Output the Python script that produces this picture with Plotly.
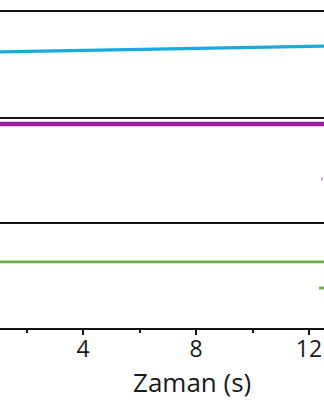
import plotly.graph_objects as go

# Data (y in arbitrary panel units 0-10)
t_cyan = [1.0, 4.0, 8.0, 12.6]
v_cyan = [6.2, 6.35, 6.55, 6.76]

t_purple = [1.0, 4.0, 8.0, 12.6]
v_purple = [9.33, 9.33, 9.33, 9.33]
t_purple_drop = [12.44, 12.47]
v_purple_drop = [4.1, 4.1]

t_green = [1.0, 4.0, 8.0, 12.6]
v_green = [6.23, 6.23, 6.23, 6.23]
t_green_drop = [12.35, 12.6]
v_green_drop = [3.77, 3.77]

x_ticks = [4, 8, 12]
x_minor = [2, 6, 10]
x_label = "Zaman (s)"

CYAN = "#1BA9DF"
PURPLE = "#9E1FA3"
GREEN = "#72AE48"
FONT = "Open Sans"

fig = go.Figure()
fig.add_trace(go.Scatter(x=t_cyan, y=v_cyan, mode="lines", line=dict(color=CYAN, width=3.2),
                         xaxis="x", yaxis="y", showlegend=False))
fig.add_trace(go.Scatter(x=t_purple, y=v_purple, mode="lines", line=dict(color=PURPLE, width=4.5),
                         xaxis="x2", yaxis="y2", showlegend=False))
fig.add_trace(go.Scatter(x=t_purple_drop, y=v_purple_drop, mode="lines", line=dict(color=PURPLE, width=3),
                         xaxis="x2", yaxis="y2", showlegend=False))
fig.add_trace(go.Scatter(x=t_green, y=v_green, mode="lines", line=dict(color=GREEN, width=2.8),
                         xaxis="x3", yaxis="y3", showlegend=False))
fig.add_trace(go.Scatter(x=t_green_drop, y=v_green_drop, mode="lines", line=dict(color=GREEN, width=2.8),
                         xaxis="x3", yaxis="y3", showlegend=False))

xr = [1.062, 12.531]
box_x = dict(range=xr, showline=True, linecolor="#111", linewidth=2,
             showgrid=False, zeroline=False, showticklabels=False, ticks="")
box_y = dict(range=[0, 10], showline=False, showgrid=False, zeroline=False,
             showticklabels=False, ticks="")

fig.update_layout(
    width=324, height=400,
    margin=dict(l=0, r=0, t=12, b=72),
    paper_bgcolor="white", plot_bgcolor="white",
    font=dict(family=FONT, color="#1a1a1a"),
    xaxis=dict(box_x, anchor="y", mirror=True),
    xaxis2=dict(box_x, anchor="y2", matches="x"),
    xaxis3=dict(box_x, anchor="y3", matches="x", showticklabels=True,
                tickmode="array", tickvals=x_ticks, ticktext=[str(v) for v in x_ticks],
                ticks="outside", ticklen=5, tickwidth=1.5, tickcolor="#111",
                ticklabelstandoff=-6,
                tickfont=dict(size=23, family=FONT, color="#1a1a1a"),
                minor=dict(tickvals=x_minor, ticks="outside", ticklen=3, tickwidth=1.5,
                           tickcolor="#111")),
    yaxis=dict(box_y, domain=[0.6677, 1.0], anchor="x"),
    yaxis2=dict(box_y, domain=[0.3354, 0.6677], anchor="x2"),
    yaxis3=dict(box_y, domain=[0.0, 0.3354], anchor="x3"),
    annotations=[dict(text=x_label, xref="paper", yref="paper", x=0.593, y=-0.171,
                      xanchor="center", yanchor="middle", showarrow=False,
                      font=dict(size=26, family=FONT, color="#1a1a1a"))],
)

fig.write_html("out.html")
